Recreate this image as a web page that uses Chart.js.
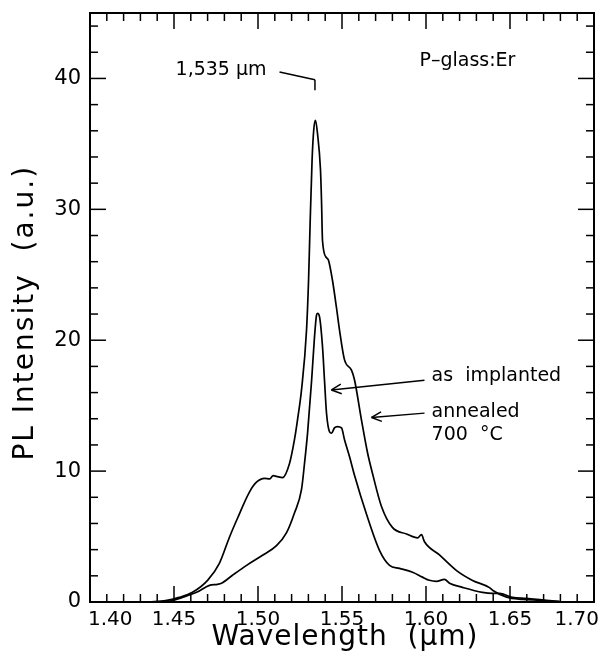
<!DOCTYPE html>
<html>
<head>
<meta charset="utf-8">
<script src="https://cdn.jsdelivr.net/npm/chart.js@4/dist/chart.umd.min.js"></script>
<style>
  html, body { margin: 0; padding: 0; background: #fff; }
  canvas { display: block; }
</style>
</head>
<body>
<canvas id="spectre" width="601" height="657"></canvas>
<script>
// Spectre recuit 700 °C : longueur d'onde (µm) et intensité PL (u.a.)
const longueursRecuit = [1.435, 1.445, 1.453, 1.461, 1.470, 1.477, 1.483, 1.4878, 1.4949, 1.4991, 1.5039,
  1.507, 1.509, 1.511, 1.5146, 1.5188, 1.5217, 1.5235, 1.5259, 1.5289, 1.5301, 1.5310, 1.5322, 1.5332,
  1.5342, 1.5354, 1.5372, 1.5378, 1.5384, 1.5408, 1.542, 1.5443, 1.5467, 1.5485, 1.5515, 1.5557, 1.5574,
  1.5616, 1.5652, 1.5682, 1.5735, 1.580, 1.5884, 1.595, 1.5973, 1.5991, 1.608, 1.6182, 1.6277, 1.6378,
  1.6396, 1.648, 1.6575, 1.6676, 1.680];
const intensitesRecuit = [0, 0.1, 0.35, 0.74, 1.65, 2.95, 4.95, 6.4, 8.4, 9.15, 9.45,
  9.4, 9.65, 9.6, 9.5, 10.6, 12.4, 13.9, 16.2, 20.8, 24.6, 28.8, 33.8, 36.1,
  36.8, 35.8, 33.0, 30.7, 27.6, 26.3, 26.1, 24.6, 22.5, 20.8, 18.5, 17.7, 17.0,
  13.9, 11.4, 9.8, 7.3, 5.7, 5.2, 4.9, 5.15, 4.6, 3.6, 2.4, 1.65, 1.1,
  0.9, 0.37, 0.2, 0.13, 0.02];

// Spectre tel qu'implanté
const longueursImplante = [1.440, 1.447, 1.455, 1.4634, 1.4711, 1.4759, 1.4783, 1.4848, 1.4932, 1.5027,
  1.511, 1.517, 1.5217, 1.5259, 1.5277, 1.5295, 1.5319, 1.5336, 1.5348, 1.5354, 1.5366, 1.5384, 1.5396,
  1.5408, 1.5426, 1.5438, 1.5455, 1.5473, 1.5497, 1.5515, 1.5545, 1.5574, 1.5646, 1.5723, 1.5783, 1.5842,
  1.592, 1.5979, 1.602, 1.6062, 1.611, 1.614, 1.6217, 1.6336, 1.6396, 1.6437, 1.6515, 1.6598, 1.6717, 1.6795];
const intensitesImplante = [0, 0.05, 0.35, 0.74, 1.27, 1.35, 1.43, 2.04, 2.8, 3.57,
  4.3, 5.3, 6.8, 8.6, 10.6, 12.9, 16.9, 20.2, 21.9, 22.06, 21.8, 19.5, 16.9,
  14.4, 13.0, 12.9, 13.3, 13.4, 13.3, 12.4, 11.1, 9.7, 6.7, 3.95, 2.8, 2.57,
  2.27, 1.9, 1.66, 1.58, 1.73, 1.43, 1.12, 0.74, 0.66, 0.66, 0.36, 0.28, 0.13, 0.05];

// Étiquettes des axes
const ticksX = [1.40, 1.45, 1.50, 1.55, 1.60, 1.65, 1.70];
const ticksY = [0, 10, 20, 30, 40];

const police = '"DejaVu Sans", sans-serif';

function points(xs, ys) {
  return xs.map((x, i) => ({ x: x, y: ys[i] }));
}

function trait(ctx, x1, y1, x2, y2) {
  ctx.beginPath();
  ctx.moveTo(x1, y1);
  ctx.lineTo(x2, y2);
  ctx.stroke();
}

// Flèche ouverte, pointe en (x2, y2)
function fleche(ctx, x1, y1, x2, y2) {
  trait(ctx, x1, y1, x2, y2);
  const a = Math.atan2(y2 - y1, x2 - x1);
  const l = 11;
  trait(ctx, x2, y2, x2 - l * Math.cos(a - 0.45), y2 - l * Math.sin(a - 0.45));
  trait(ctx, x2, y2, x2 - l * Math.cos(a + 0.45), y2 - l * Math.sin(a + 0.45));
}

// Cadre, graduations intérieures, étiquettes et annotations
const cadre = {
  id: 'cadre',
  afterDatasetsDraw(chart) {
    const ctx = chart.ctx;
    const { left, right, top, bottom } = chart.chartArea;
    const sx = chart.scales.x;
    const sy = chart.scales.y;
    const px = v => sx.getPixelForValue(v);
    const py = v => sy.getPixelForValue(v);

    ctx.save();
    ctx.strokeStyle = '#000';
    ctx.fillStyle = '#000';
    ctx.lineWidth = 2;
    ctx.strokeRect(left, top, right - left, bottom - top);

    ctx.lineWidth = 1.5;
    for (let i = 0; i <= 30; i++) {
      const x = px(1.40 + i * 0.01);
      const long = i % 5 === 0 ? 16 : 8;
      trait(ctx, x, bottom, x, bottom - long);
      trait(ctx, x, top, x, top + long);
    }
    for (let v = 0; v <= 44; v += 2) {
      const y = py(v);
      const long = v % 10 === 0 ? 16 : 8;
      trait(ctx, left, y, left + long, y);
      trait(ctx, right, y, right - long, y);
    }

    // étiquettes x
    ctx.font = '20px ' + police;
    ctx.textBaseline = 'middle';
    ticksX.forEach((v, i) => {
      let x = px(v);
      ctx.textAlign = 'center';
      if (i === 0) { ctx.textAlign = 'left'; x -= 2; }
      if (i === ticksX.length - 1) { ctx.textAlign = 'right'; x += 5; }
      ctx.fillText(v.toFixed(2), x, bottom + 18);
    });
    // étiquettes y
    ctx.font = '21px ' + police;
    ctx.textAlign = 'right';
    ticksY.forEach(v => ctx.fillText(String(v), left - 9, py(v)));

    // titres
    ctx.font = '28px ' + police;
    ctx.textAlign = 'center';
    ctx.letterSpacing = '1px';
    ctx.fillText('Wavelength  (\u03bcm)', (left + right) / 2 + 3, 638);
    ctx.save();
    ctx.translate(26, py(22.1));
    ctx.rotate(-Math.PI / 2);
    ctx.letterSpacing = '2px';
    ctx.fillText('PL Intensity  (a.u.)', 0, 0);
    ctx.restore();
    ctx.letterSpacing = '0px';

    // annotations
    ctx.font = '19px ' + police;
    ctx.textAlign = 'right';
    ctx.fillText('1,535 \u03bcm', px(1.5051), py(40.65));
    trait(ctx, px(1.5128), py(40.5), px(1.5339), py(39.9));
    trait(ctx, px(1.5339), py(39.9), px(1.5339), py(39.1));

    ctx.textAlign = 'left';
    ctx.fillText('P\u2013glass:Er', px(1.5961), py(41.3));
    ctx.fillText('as  implanted', px(1.6033), py(17.25));
    ctx.fillText('annealed', px(1.6033), py(14.5));
    ctx.fillText('700  \u00b0C', px(1.6033), py(12.75));

    fleche(ctx, px(1.5991), py(16.95), px(1.5437), py(16.2));
    fleche(ctx, px(1.5991), py(14.43), px(1.5676), py(14.1));
    ctx.restore();
  }
};

new Chart(document.getElementById('spectre'), {
  type: 'line',
  data: {
    datasets: [
      {
        label: 'annealed 700 °C',
        data: points(longueursRecuit, intensitesRecuit),
        borderColor: '#000',
        borderWidth: 1.7,
        pointRadius: 0,
        cubicInterpolationMode: 'monotone',
        fill: false
      },
      {
        label: 'as implanted',
        data: points(longueursImplante, intensitesImplante),
        borderColor: '#000',
        borderWidth: 1.7,
        pointRadius: 0,
        cubicInterpolationMode: 'monotone',
        fill: false
      }
    ]
  },
  options: {
    responsive: false,
    animation: false,
    devicePixelRatio: 1,
    layout: { padding: { left: 90, right: 7, top: 13, bottom: 55 } },
    scales: {
      x: { type: 'linear', min: 1.40, max: 1.70, display: false },
      y: { type: 'linear', min: 0, max: 45, display: false }
    },
    plugins: {
      legend: { display: false },
      tooltip: { enabled: false }
    }
  },
  plugins: [cadre]
});
</script>
</body>
</html>
